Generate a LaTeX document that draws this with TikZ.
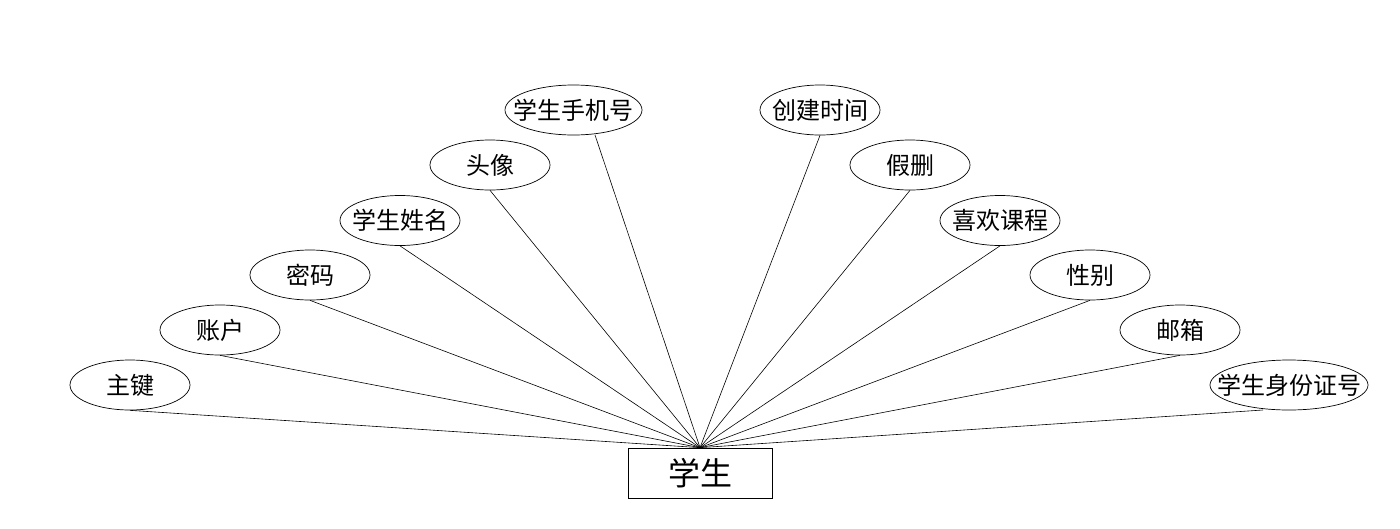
\documentclass[tikz,border=0pt]{standalone}
\usepackage{fontspec}
\setmainfont{Noto Sans CJK SC}
\usetikzlibrary{shapes.geometric}
\begin{document}
\begin{tikzpicture}[x=1pt,y=-1pt,
  attr/.style={draw, ellipse, minimum width=120pt, minimum height=50pt, inner xsep=-30pt, inner ysep=-8pt, line width=0.7pt, font=\fontsize{24}{24}\selectfont},
  wide/.style={inner xsep=-45pt},
  ent/.style={draw, rectangle, minimum width=144pt, minimum height=50pt, inner sep=0pt, line width=0.7pt, font=\fontsize{32}{32}\selectfont},
  link/.style={line width=0.6pt}]
\useasboundingbox (0,0) rectangle (1400,528);
\node[ent] (s) at (700,473) {学生};
\node[attr] (a1) at (130,385) {主键};
\node[attr] (a2) at (220,330) {账户};
\node[attr] (a3) at (310,275) {密码};
\node[attr] (a4) at (400,220.5) {学生姓名};
\node[attr] (a5) at (490,165) {头像};
\node[attr, wide, minimum width=137pt] (a6) at (573.5,110) {学生手机号};
\node[attr] (b1) at (820,110) {创建时间};
\node[attr] (b2) at (910,165) {假删};
\node[attr] (b3) at (1000,220.5) {喜欢课程};
\node[attr] (b4) at (1090,275) {性别};
\node[attr] (b5) at (1180,330) {邮箱};
\node[attr, wide, minimum width=158pt] (b6) at (1289,385) {学生身份证号};
\coordinate (a6p) at (595,135);
\coordinate (b6p) at (1263,410);
\foreach \n in {a1,a2,a3,a4,a5,b1,b2,b3,b4,b5}
  \draw[link] (\n.south) -- (s.north);
\draw[link] (a6p) -- (s.north);
\draw[link] (b6p) -- (s.north);
\end{tikzpicture}
\end{document}
